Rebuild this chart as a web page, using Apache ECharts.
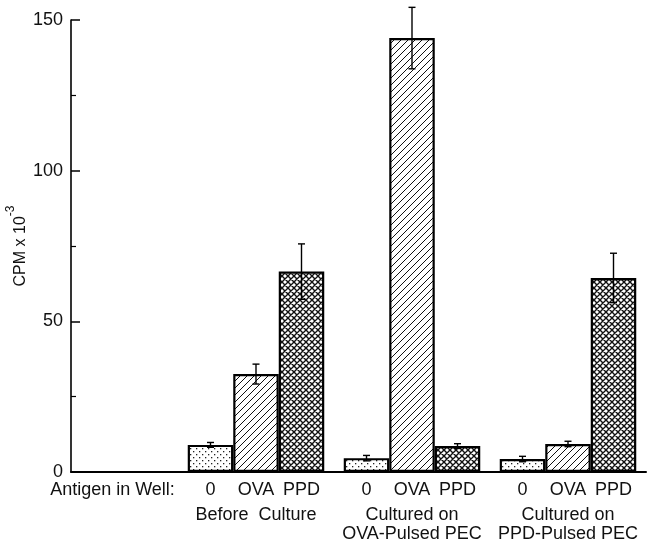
<!DOCTYPE html>
<html>
<head>
<meta charset="utf-8">
<script src="https://cdn.jsdelivr.net/npm/echarts@6/dist/echarts.min.js"></script>
<style>
html,body{margin:0;padding:0;background:#fff;}
#chart{width:648px;height:544px;}
</style>
</head>
<body>
<div id="chart"></div>
<script>
// ---- data ----
const groups = ['Before  Culture', 'Cultured on\nOVA-Pulsed PEC', 'Cultured on\nPPD-Pulsed PEC'];
const antigens = ['0', 'OVA', 'PPD'];
const zeroValues = [9, 4.6, 4.3];
const zeroErrors = [0.8, 0.9, 0.9];
const ovaValues = [32.5, 144, 9.3];
const ovaErrors = [3.3, 10.2, 0.9];
const ppdValues = [66.5, 8.6, 64.4];
const ppdErrors = [9.2, 0.8, 8.2];
const yTicks = [0, 50, 100, 150];
const rowLabel = 'Antigen in Well:';

// ---- patterns ----
function tile(size, draw) {
  const c = document.createElement('canvas');
  c.width = size; c.height = size;
  const g = c.getContext('2d');
  g.fillStyle = '#fff'; g.fillRect(0, 0, size, size);
  draw(g, size);
  return c;
}
const stipple = tile(6, (g) => {
  g.fillStyle = '#222';
  g.fillRect(1, 1, 1.3, 1.3);
  g.fillRect(4, 4, 1.3, 1.3);
});
const diag = tile(7, (g, s) => {
  g.strokeStyle = '#111'; g.lineWidth = 1;
  g.beginPath();
  for (let k = -1; k <= 1; k++) {
    g.moveTo(k * s, s); g.lineTo(k * s + s, 0);
  }
  g.stroke();
});
const cross = tile(6, (g, s) => {
  g.strokeStyle = '#111'; g.lineWidth = 1.4;
  g.beginPath();
  for (let k = -1; k <= 1; k++) {
    g.moveTo(k * s, s); g.lineTo(k * s + s, 0);
    g.moveTo(k * s, 0); g.lineTo(k * s + s, s);
  }
  g.stroke();
});
const patterns = [stipple, diag, cross];

const catGap = 0.125;
const allValues = [zeroValues, ovaValues, ppdValues];
const allErrors = [zeroErrors, ovaErrors, ppdErrors];
const font = 'Liberation Sans, Arial, Helvetica, sans-serif';

const series = [];
antigens.forEach((name, si) => {
  series.push({
    type: 'bar',
    name: name,
    xAxisIndex: 1, yAxisIndex: 1,
    barGap: '0%',
    barCategoryGap: (catGap * 100) + '%',
    data: allValues[si],
    itemStyle: { color: { image: patterns[si], repeat: 'repeat' }, borderColor: '#000', borderWidth: 2.2 },
    label: {
      show: true, position: 'bottom', distance: 9,
      formatter: () => name,
      color: '#111', fontSize: 18, fontFamily: font
    },
    z: 2
  });
  series.push({
    type: 'custom',
    xAxisIndex: 1, yAxisIndex: 1,
    clip: false,
    z: 5,
    data: allValues[si].map((v, i) => [i, v, allErrors[si][i]]),
    renderItem: (params, api) => {
      const idx = api.value(0), v = api.value(1), e = api.value(2);
      const band = api.size([1, 0])[0];
      const bw = band * (1 - catGap) / 3;
      const x = api.coord([idx, 0])[0] + (si - 1) * bw;
      const yt = api.coord([idx, v + e])[1];
      const yb = api.coord([idx, v - e])[1];
      const cap = 3.5;
      const st = { stroke: '#000', lineWidth: 1.4 };
      return {
        type: 'group',
        children: [
          { type: 'line', shape: { x1: x, y1: yt, x2: x, y2: yb }, style: st },
          { type: 'line', shape: { x1: x - cap, y1: yt, x2: x + cap, y2: yt }, style: st },
          { type: 'line', shape: { x1: x - cap, y1: yb, x2: x + cap, y2: yb }, style: st }
        ]
      };
    }
  });
});

const chart = echarts.init(document.getElementById('chart'));
chart.setOption({
  backgroundColor: '#fff',
  animation: false,
  textStyle: { fontFamily: font },
  grid: [
    { left: 71, width: 107, top: 20, bottom: 72 },
    { left: 178, right: 2, top: 20, bottom: 72 }
  ],
  xAxis: [
    {
      type: 'category', gridIndex: 0, data: [rowLabel],
      axisLine: { lineStyle: { color: '#000', width: 2 } },
      axisTick: { show: false },
      axisLabel: { interval: 0, margin: 9, color: '#111', fontSize: 18, fontFamily: font, padding: [0, 24, 0, 0] }
    },
    {
      type: 'category', gridIndex: 1, data: groups,
      axisLine: { lineStyle: { color: '#000', width: 2 } },
      axisTick: { show: false },
      axisLabel: { interval: 0, margin: 34, color: '#111', fontSize: 18, lineHeight: 19, fontFamily: font }
    }
  ],
  yAxis: [
    {
      type: 'value', gridIndex: 0, min: yTicks[0], max: yTicks[yTicks.length - 1], interval: 50,
      name: '{a|CPM x 10}{b|-3}',
      nameLocation: 'middle', nameGap: 42, nameRotate: 90,
      nameTextStyle: {
        rich: {
          a: { fontSize: 16, lineHeight: 24, verticalAlign: 'bottom', color: '#111', fontFamily: font },
          b: { fontSize: 12, lineHeight: 24, verticalAlign: 'top', color: '#111', fontFamily: font }
        }
      },
      axisLine: { show: true, lineStyle: { color: '#000', width: 1.6 } },
      axisTick: { show: true, inside: true, length: 9, lineStyle: { color: '#000', width: 1.5 } },
      minorTick: { show: true, splitNumber: 2, length: 5, lineStyle: { color: '#000', width: 1.2 } },
      splitLine: { show: false },
      axisLabel: { color: '#111', fontSize: 18, fontFamily: font, margin: 8 }
    },
    {
      type: 'value', gridIndex: 1, min: yTicks[0], max: yTicks[yTicks.length - 1], interval: 50,
      show: false, splitLine: { show: false }
    }
  ],
  series: series
});
</script>
</body>
</html>
